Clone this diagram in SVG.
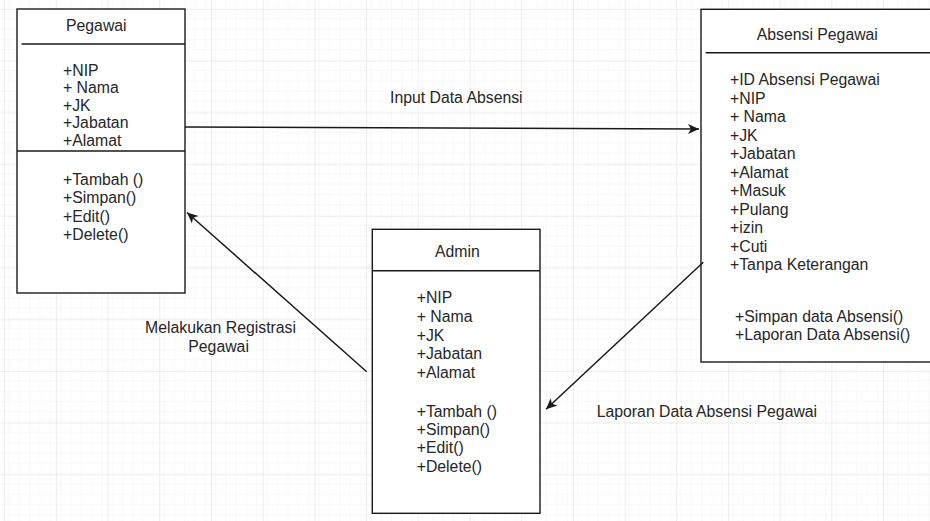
<svg xmlns="http://www.w3.org/2000/svg" width="930" height="521" viewBox="0 0 930 521">
  <defs>
    <pattern id="minorGrid" x="4.2" y="9.1" width="10.34" height="10.34" patternUnits="userSpaceOnUse">
      <path d="M0,0 H10.34 M0,0 V10.34" fill="none" stroke="#f1f1f1" stroke-width="1"/>
    </pattern>
    <pattern id="majorGrid" x="4.2" y="9.1" width="51.7" height="51.7" patternUnits="userSpaceOnUse">
      <rect width="51.7" height="51.7" fill="url(#minorGrid)"/>
      <path d="M0,0 H51.7 M0,0 V51.7" fill="none" stroke="#e1e1e1" stroke-width="1.2"/>
    </pattern>
    <marker id="arrow" viewBox="-12 -6 14 12" refX="0" refY="0" markerWidth="14" markerHeight="12" markerUnits="userSpaceOnUse" orient="auto">
      <path d="M0,0 L-11,-5 L-8,0 L-11,5 Z" fill="#1a1a1a"/>
    </marker>
  </defs>
  <style>
    text { font-family: "Liberation Sans", Arial, sans-serif; font-size: 15.8px; fill: #262626; }
    .box { fill: #ffffff; stroke: #1a1a1a; stroke-width: 1.4; }
    .sep { stroke: #1a1a1a; stroke-width: 1.4; fill: none; }
    .edge { stroke: #1a1a1a; stroke-width: 1.5; fill: none; marker-end: url(#arrow); }
  </style>

  <rect width="930" height="521" fill="#ffffff"/>
  <rect width="930" height="521" fill="url(#majorGrid)"/>

  <g id="pegawai">
    <rect class="box" x="17" y="9" width="168" height="284"/>
    <line class="sep" x1="21.5" y1="44" x2="185" y2="44"/>
    <line class="sep" x1="17" y1="151" x2="185" y2="151"/>
    <text x="66" y="31">Pegawai</text>
    <text x="63" y="76">+NIP</text>
    <text x="63" y="93.4">+ Nama</text>
    <text x="63" y="110.8">+JK</text>
    <text x="63" y="128.2">+Jabatan</text>
    <text x="63" y="145.6">+Alamat</text>
    <text x="63" y="185">+Tambah ()</text>
    <text x="63" y="203.3">+Simpan()</text>
    <text x="63" y="221.7">+Edit()</text>
    <text x="63" y="240">+Delete()</text>
  </g>

  <g id="absensi-pegawai">
    <rect class="box" x="701" y="9.3" width="240" height="352.7"/>
    <line class="sep" x1="705.7" y1="52.7" x2="930" y2="52.7"/>
    <text x="756.7" y="40">Absensi Pegawai</text>
    <text x="730" y="85">+ID Absensi Pegawai</text>
    <text x="730" y="103.5">+NIP</text>
    <text x="730" y="122">+ Nama</text>
    <text x="730" y="140.5">+JK</text>
    <text x="730" y="159">+Jabatan</text>
    <text x="730" y="177.5">+Alamat</text>
    <text x="730" y="196">+Masuk</text>
    <text x="730" y="214.5">+Pulang</text>
    <text x="730" y="233">+izin</text>
    <text x="730" y="251.5">+Cuti</text>
    <text x="730" y="270">+Tanpa Keterangan</text>
    <text x="735" y="321.7">+Simpan data Absensi()</text>
    <text x="735" y="340">+Laporan Data Absensi()</text>
  </g>

  <g id="admin">
    <rect class="box" x="372.3" y="229.3" width="167.7" height="284"/>
    <line class="sep" x1="372.3" y1="270.7" x2="540" y2="270.7"/>
    <text x="435" y="257.3">Admin</text>
    <text x="416.7" y="302.7">+NIP</text>
    <text x="416.7" y="321.6">+ Nama</text>
    <text x="416.7" y="340.5">+JK</text>
    <text x="416.7" y="359.4">+Jabatan</text>
    <text x="416.7" y="378.3">+Alamat</text>
    <text x="416.7" y="416.7">+Tambah ()</text>
    <text x="416.7" y="435">+Simpan()</text>
    <text x="416.7" y="453.4">+Edit()</text>
    <text x="416.7" y="471.7">+Delete()</text>
  </g>

  <g id="connectors">
    <line class="edge" x1="185" y1="127" x2="699" y2="129"/>
    <line class="edge" x1="366.7" y1="371.7" x2="187" y2="212.5"/>
    <line class="edge" x1="703.3" y1="262.3" x2="546" y2="409.3"/>
    <text x="390" y="103.3">Input Data Absensi</text>
    <text x="145" y="333.3">Melakukan Registrasi</text>
    <text x="188.3" y="351.7">Pegawai</text>
    <text x="596.7" y="417.3">Laporan Data Absensi Pegawai</text>
  </g>
</svg>
